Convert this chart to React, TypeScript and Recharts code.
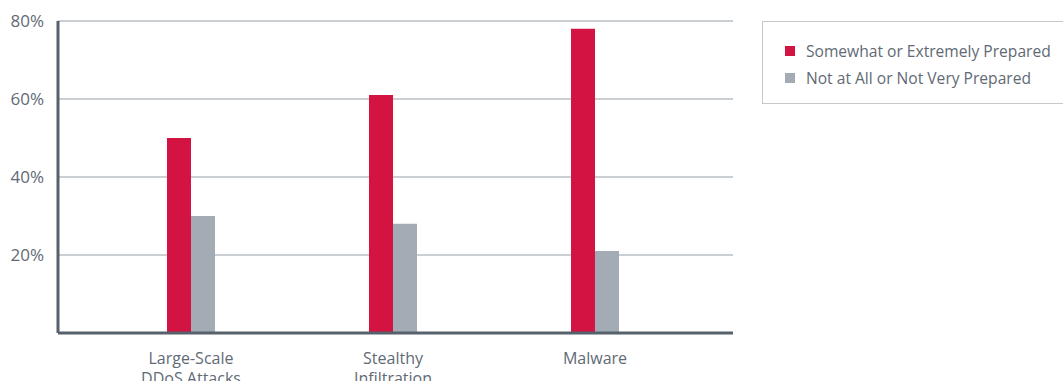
import { BarChart, Bar, XAxis, YAxis, CartesianGrid } from 'recharts';

const CATEGORIES = ['Large-Scale\nDDoS Attacks', 'Stealthy\nInfiltration', 'Malware'];
const PREPARED = [50, 61, 78];
const NOT_PREPARED = [30, 28, 21];
const Y_TICKS = [20, 40, 60, 80];

const SERIES = [
  { key: 'prepared', name: 'Somewhat or Extremely Prepared', color: '#d31443' },
  { key: 'notPrepared', name: 'Not at All or Not Very Prepared', color: '#a3acb4' },
];

const data = CATEGORIES.map((category, i) => ({
  category,
  prepared: PREPARED[i],
  notPrepared: NOT_PREPARED[i],
}));

const FONT = '"Open Sans", "Noto Sans", sans-serif';
const TEXT = '#5f6a75';
const AXIS = '#55616b';

function CategoryTick({ x, y, payload }: any) {
  const lines = String(payload.value).split('\n');
  return (
    <text x={x} y={y} textAnchor="middle" fill={TEXT} fontSize={16} fontFamily={FONT}>
      {lines.map((line, i) => (
        <tspan key={i} x={x} dy={i === 0 ? 23 : 20}>{line}</tspan>
      ))}
    </text>
  );
}

// legend sits in its own bordered box to the right of the plot
function LegendBox() {
  return (
    <div style={{
      position: 'absolute', left: 762, top: 21,
      border: '1px solid #c3c8cd', width: 320, height: 83, boxSizing: 'border-box',
      paddingTop: 15, paddingLeft: 22, fontFamily: FONT, fontSize: 15.6, color: TEXT,
    }}>
      {SERIES.map(s => (
        <div key={s.key} style={{ display: 'flex', alignItems: 'center', height: 27 }}>
          <span style={{ width: 10, height: 10, background: s.color, marginRight: 11 }} />
          <span>{s.name}</span>
        </div>
      ))}
    </div>
  );
}

export default function App() {
  return (
    <div style={{ position: 'absolute', left: 0, top: 0, width: 1063, height: 381, overflow: 'hidden' }}>
      <BarChart
        width={1063}
        height={381}
        data={data}
        margin={{ top: 21, right: 330, bottom: 0, left: 0 }}
        barGap={0}
        barSize={24}
      >
        <CartesianGrid horizontal vertical={false} stroke="#b9bfc5" strokeWidth={1.5} />
        <XAxis
          dataKey="category"
          tick={<CategoryTick />}
          tickLine={false}
          axisLine={{ stroke: AXIS, strokeWidth: 3 }}
          padding={{ left: 32, right: 37 }}
          interval={0}
          height={48}
        />
        <YAxis
          domain={[0, 80]}
          ticks={Y_TICKS}
          tickFormatter={(v: number) => `${v}%`}
          tickLine={false}
          axisLine={{ stroke: AXIS, strokeWidth: 3 }}
          tick={{ fill: TEXT, fontSize: 17, fontFamily: FONT, dx: -6 }}
          width={58}
        />
        {SERIES.map(s => (
          <Bar key={s.key} dataKey={s.key} name={s.name} fill={s.color} isAnimationActive={false} />
        ))}
      </BarChart>
      <LegendBox />
    </div>
  );
}
